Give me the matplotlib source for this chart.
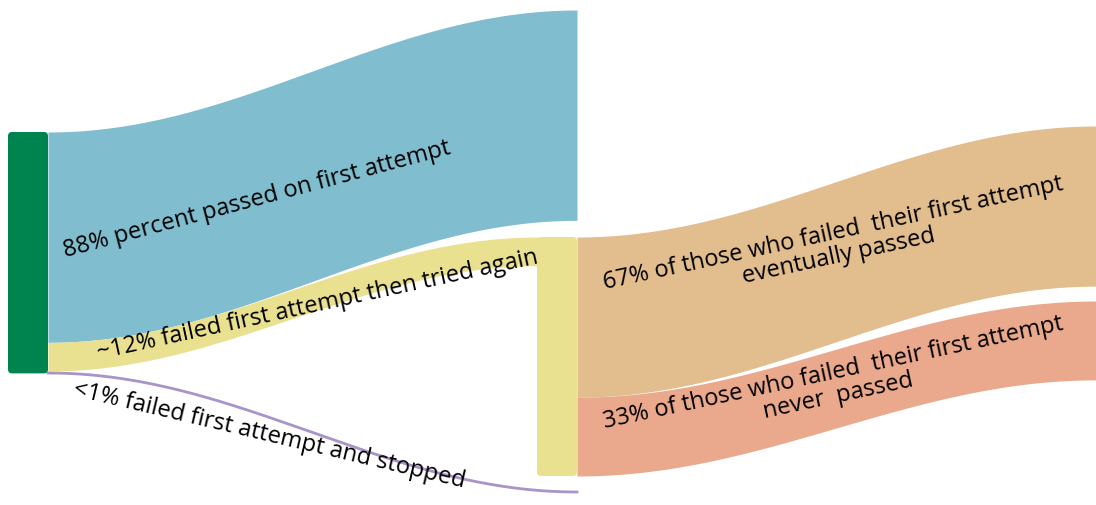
import numpy as np
import matplotlib
matplotlib.use('Agg')
import matplotlib.pyplot as plt
from matplotlib.patches import FancyBboxPatch

# first attempt outcomes, % of all first attempts
first_labels = ['88% percent passed on first attempt',
                '~12% failed first attempt then tried again',
                '<1% failed first attempt and stopped']
first_values = [88, 12, 1]

# outcomes for those who failed the first attempt, % of that group
retry_labels = ['67% of those who failed  their first attempt\neventually passed',
                '33% of those who failed  their first attempt\nnever  passed']
retry_values = [67, 33]

GREEN = '#00844f'
BLUE = '#80bdcf'
YELLOW = '#e9e090'
ORANGE = '#e2bd8e'
SALMON = '#eaa98c'
PURPLE = '#a894c8'

plt.rcParams['font.family'] = ['Open Sans', 'DejaVu Sans']

K = 2.39  # pixels per percent


def band(ax, x0, x1, y0, y1, h, color):
    x = np.linspace(x0, x1, 300)
    t = (x - x0) / (x1 - x0)
    s = (1 - np.cos(np.pi * t)) / 2
    top = y0 + (y1 - y0) * s
    ax.fill_between(x, top, top + h, color=color, lw=0, zorder=1)


def curve(ax, x0, x1, y0, y1, color):
    x = np.linspace(x0, x1, 300)
    t = (x - x0) / (x1 - x0)
    s = (1 - np.cos(np.pi * t)) / 2
    ax.plot(x, y0 + (y1 - y0) * s, color=color, lw=2, zorder=1)


fig = plt.figure(figsize=(10.96, 5.06), dpi=100)
ax = fig.add_axes([0, 0, 1, 1])
ax.set_xlim(0, 1096)
ax.set_ylim(506, 0)
ax.axis('off')

# left node
left_top = 133
left_h = sum(first_values) * K
ax.add_patch(FancyBboxPatch((8, left_top), 40, left_h,
                            boxstyle='round,pad=0,rounding_size=4',
                            fc=GREEN, ec='none', zorder=3))

# middle node (those who retried)
mid_top = 238
mid_h = sum(retry_values) * K
ax.add_patch(FancyBboxPatch((537, mid_top), 40, mid_h,
                            boxstyle='round,pad=0,rounding_size=4',
                            fc=YELLOW, ec='none', zorder=3))

# first stage flows
y_pass = left_top
band(ax, 48, 577, y_pass, 11, first_values[0] * K, BLUE)
y_fail = y_pass + first_values[0] * K
band(ax, 48, 538, y_fail, mid_top, first_values[1] * K, YELLOW)
y_stop = y_fail + first_values[1] * K + 2
curve(ax, 48, 577, y_stop, 493, PURPLE)

# second stage flows
y_ev = mid_top
band(ax, 577, 1096, y_ev, 127, retry_values[0] * K, ORANGE)
y_nv = y_ev + retry_values[0] * K
band(ax, 577, 1096, y_nv, 302, retry_values[1] * K, SALMON)

fs = 17
ax.text(259, 205, first_labels[0], fontsize=fs, rotation=15,
        rotation_mode='anchor', ha='center', va='baseline', zorder=4)
ax.text(319, 311, first_labels[1], fontsize=fs, rotation=12.3,
        rotation_mode='anchor', ha='center', va='baseline', zorder=4)
ax.text(268, 441, first_labels[2], fontsize=fs, rotation=-13.3,
        rotation_mode='anchor', ha='center', va='baseline', zorder=4)
ax.text(836, 245, retry_labels[0], fontsize=fs, rotation=12.2,
        rotation_mode='anchor', ha='center', va='center',
        multialignment='center', linespacing=1.0, zorder=4)
ax.text(836, 385, retry_labels[1], fontsize=fs, rotation=12.1,
        rotation_mode='anchor', ha='center', va='center',
        multialignment='center', linespacing=1.0, zorder=4)

fig.savefig('out.png', dpi=100)
